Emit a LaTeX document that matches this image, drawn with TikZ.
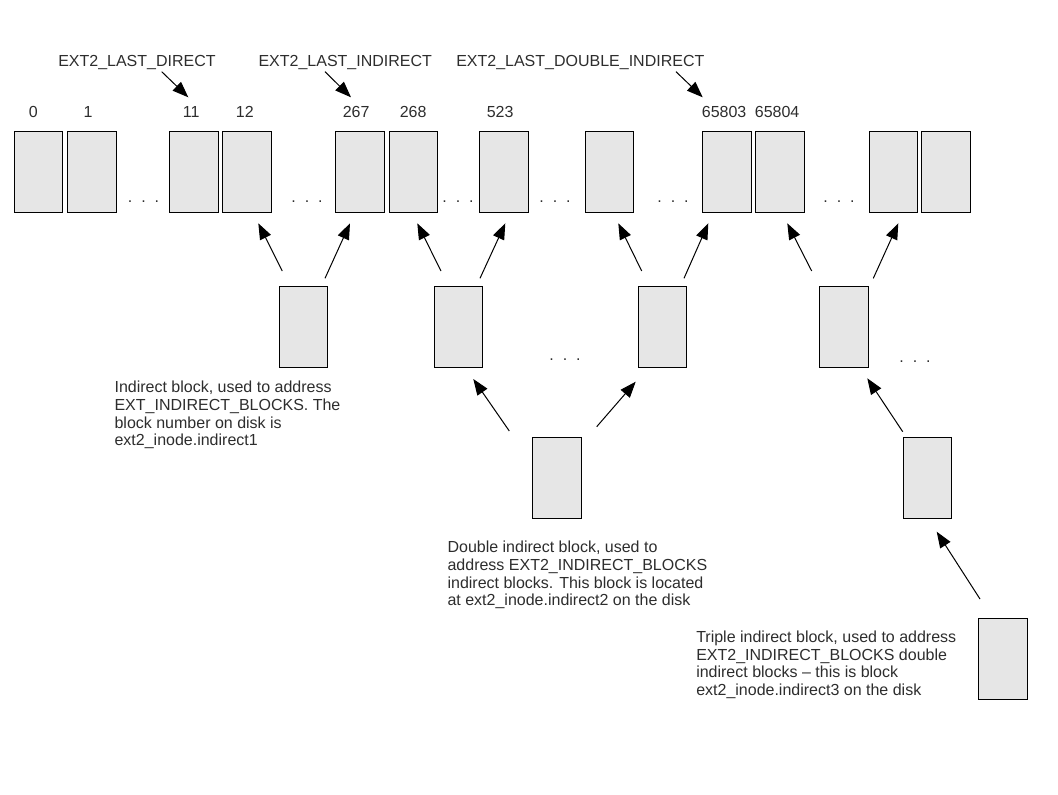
\documentclass[tikz,border=0pt]{standalone}
\usepackage{fontspec}
\setmainfont{Liberation Sans}
\usetikzlibrary{arrows.meta}
\definecolor{blockfill}{RGB}{230,230,230}
\definecolor{txt}{RGB}{45,45,45}
\begin{document}
\begin{tikzpicture}[x=0.75pt,y=-0.75pt,
  blk/.style={draw=black,line width=0.75pt,fill=blockfill,minimum width=36.4pt,minimum height=60.75pt,inner sep=0pt},
  lbl/.style={text=txt,font=\fontsize{12}{13.3}\selectfont,inner sep=0pt,anchor=base west},
  desc/.style={text=txt,font=\fontsize{12}{13.3}\selectfont,inner sep=0pt,anchor=north west,align=left},
  dots/.style={text=txt,font=\fontsize{12}{13.3}\selectfont,inner sep=0pt,anchor=base},
  arr/.style={draw=black,line width=0.75pt,-{Triangle[length=12pt,width=9pt]}}]
\useasboundingbox (0,0) rectangle (1058,794);
% top row of blocks
\node[blk] (b0) at (38.5,171.5) {};
\node[blk] (b1) at (92,171.5) {};
\node[blk] (b11) at (193.8,171.5) {};
\node[blk] (b12) at (247,171.5) {};
\node[blk] (b267) at (360.2,171.5) {};
\node[blk] (b268) at (413.3,171.5) {};
\node[blk] (b523) at (503.8,171.5) {};
\node[blk] (bx) at (609.3,171.5) {};
\node[blk] (b65803) at (727,171.5) {};
\node[blk] (b65804) at (779.8,171.5) {};
\node[blk] (by) at (893.3,171.5) {};
\node[blk] (bz) at (945.8,171.5) {};
% numbers
\node[lbl] (n0) at (28.6,117.7) {0};
\node[lbl] (n1) at (83.3,117.7) {1};
\node[lbl] (n11) at (182.6,117.7) {11};
\node[lbl] (n12) at (235.6,117.7) {12};
\node[lbl] (n267) at (342.5,117.7) {267};
\node[lbl] (n268) at (399.5,117.7) {268};
\node[lbl] (n523) at (486.5,117.7) {523};
\node[lbl] (n65803) at (701.6,117.7) {65803};
\node[lbl] (n65804) at (754.6,117.7) {65804};
% top labels
\node[lbl] (ld) at (58,66) {EXT2\_LAST\_DIRECT};
\node[lbl] (li) at (258.3,66) {EXT2\_LAST\_INDIRECT};
\node[lbl] (ldi) at (456,66) {EXT2\_LAST\_DOUBLE\_INDIRECT};
% dots in top row
\node[dots] (d1) at (143.5,202.8) {.\kern6.7pt.\kern6.7pt.};
\node[dots] (d2) at (307,202.8) {.\kern6.7pt.\kern6.7pt.};
\node[dots] (d3) at (458,202.8) {.\kern6.7pt.\kern6.7pt.};
\node[dots] (d4) at (555,202.8) {.\kern6.7pt.\kern6.7pt.};
\node[dots] (d5) at (673,202.8) {.\kern6.7pt.\kern6.7pt.};
\node[dots] (d6) at (839,202.8) {.\kern6.7pt.\kern6.7pt.};
% second level blocks
\node[blk] (i1) at (303.5,326.5) {};
\node[blk] (i2) at (458.3,326.5) {};
\node[blk] (i3) at (662.3,326.5) {};
\node[blk] (i4) at (843.8,326.5) {};
\node[dots] (d7) at (565,360.5) {.\kern6.7pt.\kern6.7pt.};
\node[dots] (d8) at (915,362) {.\kern6.7pt.\kern6.7pt.};
% double level
\node[blk] (dd1) at (557,477.8) {};
\node[blk] (dd2) at (927.5,478) {};
% triple
\node[blk] (tt) at (1002.8,659.2) {};
% descriptions
\node[desc] (t1) at (114.3,380.8) {Indirect block, used to address\\EXT\_INDIRECT\_BLOCKS. The\\block number on disk is\\ext2\_inode.indirect1};
\node[desc] (t2) at (447.3,540.8) {Double indirect block, used to\\address EXT2\_INDIRECT\_BLOCKS\\indirect blocks. This block is located\\at ext2\_inode.indirect2 on the disk};
\node[desc] (t3) at (696,630.5) {Triple indirect block, used to address\\EXT2\_INDIRECT\_BLOCKS double\\indirect blocks -- this is block\\ext2\_inode.indirect3 on the disk};
% arrow coordinates
\coordinate (a1s) at (161.7,71.7); \coordinate (a1e) at (188.3,97.3);
\coordinate (a2s) at (325,71.7);   \coordinate (a2e) at (351,97.3);
\coordinate (a3s) at (676,71.7);   \coordinate (a3e) at (702.7,97.3);
\coordinate (p1s) at (282.3,271);  \coordinate (p1e) at (258.3,223.3);
\coordinate (p2s) at (325,278.3);  \coordinate (p2e) at (350,223.3);
\coordinate (p3s) at (441,271);    \coordinate (p3e) at (417.3,223.3);
\coordinate (p4s) at (480,278.3);  \coordinate (p4e) at (505.3,223.3);
\coordinate (p5s) at (641.7,271);  \coordinate (p5e) at (618.3,223.3);
\coordinate (p6s) at (684,278.3);  \coordinate (p6e) at (708.3,223.3);
\coordinate (p7s) at (811.7,271);  \coordinate (p7e) at (787.3,223.3);
\coordinate (p8s) at (873.3,278.3);\coordinate (p8e) at (898.3,223.3);
\coordinate (q1s) at (509.3,431);  \coordinate (q1e) at (473.3,379);
\coordinate (q2s) at (596.7,426.7);\coordinate (q2e) at (635.7,381.7);
\coordinate (q3s) at (902.7,431.7);\coordinate (q3e) at (867.3,378.3);
\coordinate (r1s) at (980,599);    \coordinate (r1e) at (936.7,531.7);
\draw[arr] (a1s) -- (a1e);
\draw[arr] (a2s) -- (a2e);
\draw[arr] (a3s) -- (a3e);
\draw[arr] (p1s) -- (p1e);
\draw[arr] (p2s) -- (p2e);
\draw[arr] (p3s) -- (p3e);
\draw[arr] (p4s) -- (p4e);
\draw[arr] (p5s) -- (p5e);
\draw[arr] (p6s) -- (p6e);
\draw[arr] (p7s) -- (p7e);
\draw[arr] (p8s) -- (p8e);
\draw[arr] (q1s) -- (q1e);
\draw[arr] (q2s) -- (q2e);
\draw[arr] (q3s) -- (q3e);
\draw[arr] (r1s) -- (r1e);
\end{tikzpicture}
\end{document}
